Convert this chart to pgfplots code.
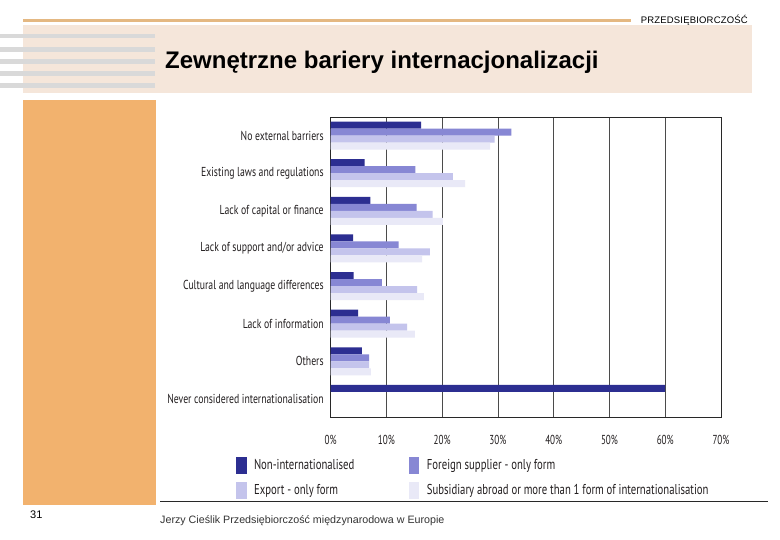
\documentclass[border=0pt]{standalone}
\usepackage{fontspec}
\setmainfont{Liberation Sans}
\newfontfamily\chartfont[FakeStretch=0.75]{PT Sans}
\newfontfamily\labfont[FakeStretch=0.75]{PT Sans}
\newfontfamily\tickfont[FakeStretch=0.7]{PT Sans}
\usepackage{pgfplots}
\usepackage{pgfplotstable}
\pgfplotsset{compat=1.18}

\definecolor{cA}{RGB}{44,46,145}
\definecolor{cB}{RGB}{135,135,212}
\definecolor{cC}{RGB}{196,196,236}
\definecolor{cD}{RGB}{233,233,247}
\definecolor{tanline}{RGB}{228,184,130}
\definecolor{beige}{RGB}{245,230,218}
\definecolor{stripe}{RGB}{217,217,217}
\definecolor{orangeblk}{RGB}{242,178,110}
\definecolor{txt}{RGB}{35,31,32}
\definecolor{gridc}{RGB}{75,75,75}
\definecolor{boxc}{RGB}{40,40,40}

% idx 7 = top category
\pgfplotstableread{
idx A B C D
7 16.2 32.4 29.4 28.6
6 6.1 15.2 21.9 24.1
5 7.1 15.4 18.3 20.1
4 4.0 12.2 17.8 16.4
3 4.1 9.2 15.5 16.7
2 4.9 10.6 13.7 15.1
1 5.6 6.9 6.9 7.2
0 60 nan nan nan
}\datatable

\begin{document}
\begin{tikzpicture}
\useasboundingbox[fill=white] (0pt,0pt) rectangle (780pt,-540pt);
% slide decoration
\fill[tanline] (23pt,-19.5pt) rectangle (631pt,-22.5pt);
\node[anchor=base east, inner sep=0pt, font=\fontsize{9.5}{11}\selectfont\addfontfeature{LetterSpace=2}] at (748pt,-23.5pt) {PRZEDSIĘBIORCZOŚĆ};
\fill[beige] (23pt,-25pt) rectangle (752pt,-93pt);
\foreach \yy in {36,49.3,61.3,73.3,85.3} {
  \fill[stripe] (0pt,-\yy pt+2.4pt) rectangle (155pt,-\yy pt-2.4pt);
}
\node[anchor=base west, inner sep=0pt, font=\fontsize{24}{27}\selectfont\bfseries] at (165pt,-68.3pt) {Zewnętrzne bariery internacjonalizacji};
\fill[orangeblk] (23pt,-100pt) rectangle (156pt,-505pt);
\draw[color=boxc, line width=1pt] (160pt,-501pt) -- (768pt,-501pt);
\node[anchor=base west, inner sep=0pt, font=\fontsize{11}{13}\selectfont] at (30pt,-518pt) {31};
\node[anchor=base west, inner sep=0pt, text=black!80, font=\fontsize{10.7}{12}\selectfont] at (160pt,-523pt) {Jerzy Cieślik Przedsiębiorczość międzynarodowa w Europie};

\begin{axis}[
  at={(330.7pt,-417pt)}, anchor=south west,
  scale only axis, width=390.3pt, height=299.5pt,
  xmin=0, xmax=70, ymin=-0.48, ymax=7.48,
  xtick={0,10,...,70},
  xticklabels={0\%,10\%,20\%,30\%,40\%,50\%,60\%,70\%},
  ytick={0,...,7},
  yticklabels={Never considered internationalisation,Others,Lack of information,Cultural and language differences,Lack of support and/or advice,Lack of capital or finance,Existing laws and regulations,No external barriers},
  major tick length=0pt,
  xmajorgrids, grid style={color=gridc, line width=0.9pt},
  axis line style={color=boxc, line width=1pt},
  xticklabel style={font=\tickfont\fontsize{13}{14}\selectfont, text=txt, yshift=-15pt},
  yticklabel style={font=\labfont\fontsize{13}{14}\selectfont, text=txt, xshift=-3.5pt},
  legend columns=2,
  legend cell align=left,
  legend image code/.code={\fill[#1] (0pt,-8.5pt) rectangle (10.5pt,8.5pt);},
  legend style={draw=none, fill=none, inner sep=0pt, outer sep=0pt,
    at={(-0.2426,-0.135)}, anchor=north west,
    font=\chartfont\fontsize{14.3}{16}\selectfont, text=txt,
    row sep=8pt,
    nodes={inner sep=1.5pt, text height=10pt, text depth=3pt},
    /tikz/every odd column/.append style={column sep=6pt},
    /tikz/every even column/.append style={column sep=53pt}},
]
\addplot[xbar, bar width=0.186, bar shift=0.279, fill=cA, draw=none] table[x=A, y=idx] {\datatable};
\addplot[xbar, bar width=0.186, bar shift=0.093, fill=cB, draw=none] table[x=B, y=idx] {\datatable};
\addplot[xbar, bar width=0.186, bar shift=-0.093, fill=cC, draw=none] table[x=C, y=idx] {\datatable};
\addplot[xbar, bar width=0.186, bar shift=-0.279, fill=cD, draw=none] table[x=D, y=idx] {\datatable};
\legend{Non-internationalised, Foreign supplier - only form, Export - only form, Subsidiary abroad or more than 1 form of internationalisation}
\end{axis}
\end{tikzpicture}
\end{document}
